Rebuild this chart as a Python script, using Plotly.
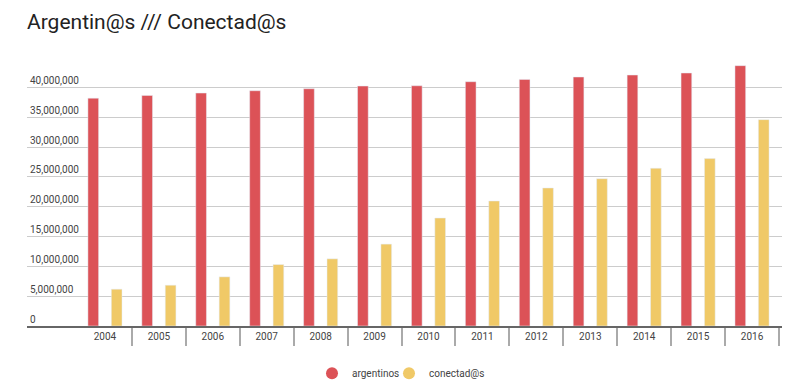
import plotly.graph_objects as go

years = ["2004", "2005", "2006", "2007", "2008", "2009", "2010",
         "2011", "2012", "2013", "2014", "2015", "2016"]
argentinos = [38.20e6, 38.66e6, 39.06e6, 39.45e6, 39.78e6, 40.23e6, 40.28e6,
              40.96e6, 41.35e6, 41.75e6, 42.08e6, 42.42e6, 43.65e6]
conectados = [6.17e6, 6.84e6, 8.24e6, 10.30e6, 11.26e6, 13.73e6, 18.10e6,
              20.96e6, 23.14e6, 24.70e6, 26.45e6, 28.07e6, 34.60e6]
y_ticks = [0, 5e6, 10e6, 15e6, 20e6, 25e6, 30e6, 35e6, 40e6]
y_tick_text = ["0", "5,000,000", "10,000,000", "15,000,000", "20,000,000",
               "25,000,000", "30,000,000", "35,000,000", "40,000,000"]

RED = "#DC5257"
YELLOW = "#F0C967"

fig = go.Figure()
fig.add_trace(go.Bar(x=years, y=argentinos, name="argentinos",
                     marker=dict(color=RED), showlegend=False))
fig.add_trace(go.Bar(x=years, y=conectados, name="conectad@s",
                     marker=dict(color=YELLOW), showlegend=False))
# legend entries with round markers
fig.add_trace(go.Scatter(x=[None], y=[None], mode="markers", name="argentinos",
                         legend="legend",
                         marker=dict(color=RED, size=12, symbol="circle")))
fig.add_trace(go.Scatter(x=[None], y=[None], mode="markers", name="conectad@s",
                         legend="legend2",
                         marker=dict(color=YELLOW, size=12, symbol="circle")))

leg_common = dict(orientation="h", xanchor="left", y=-0.178, yanchor="middle",
                  font=dict(size=10, color="#444"), itemwidth=30,
                  bgcolor="rgba(0,0,0,0)")
fig.update_layout(
    width=800, height=386,
    margin=dict(l=27, r=18, t=60, b=60, autoexpand=False),
    paper_bgcolor="white", plot_bgcolor="white",
    font=dict(family="Roboto", color="#444", size=10),
    title=dict(text="Argentin@s /// Conectad@s", x=0, xref="paper", xanchor="left",
               y=1 - 22 / 386, yref="container", yanchor="middle",
               font=dict(family="Roboto", size=21, color="#222")),
    barmode="group", bargap=0.132, bargroupgap=0.543,
    legend=dict(x=(312 - 27) / 755, **leg_common),
    legend2=dict(x=(389 - 27) / 755, **leg_common),
    showlegend=True,
)
fig.update_xaxes(
    type="category", range=[-1.446, 12.556], automargin=False,
    showline=True, linecolor="#666", linewidth=2,
    tickson="boundaries", ticks="outside", ticklen=18, tickcolor="#aaa", tickwidth=1.5,
    ticklabelstandoff=0,
    showgrid=False, tickfont=dict(size=10, color="#444"),
)
fig.update_yaxes(
    range=[0, 44.6e6], tickvals=y_ticks, ticktext=y_tick_text, automargin=False,
    ticklabelposition="inside top", showgrid=True, gridcolor="#cccccc", gridwidth=1,
    zeroline=False, showline=False, ticks="",
    tickfont=dict(size=10, color="#444"),
)
fig.write_html("out.html", config={"displayModeBar": False},
               post_script="document.body.style.margin='0';")
